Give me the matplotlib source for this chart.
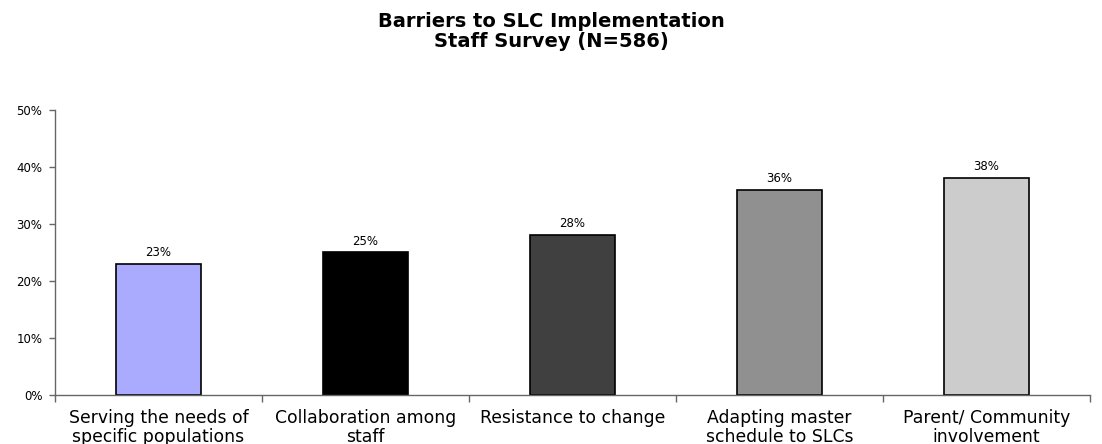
import matplotlib
matplotlib.use("Agg")
import matplotlib.pyplot as plt
import numpy as np

plt.rcParams["font.family"] = "DejaVu Sans"

categories = ["Serving the needs of\nspecific populations", "Collaboration among\nstaff",
              "Resistance to change", "Adapting master\nschedule to SLCs",
              "Parent/ Community\ninvolvement"]
values = [23, 25, 28, 36, 38]
colors = ["#AAAAFF", "#000000", "#404040", "#909090", "#CCCCCC"]
yticks = [0, 10, 20, 30, 40, 50]
title_lines = ["Barriers to SLC Implementation", "Staff Survey (N=586)"]

fig = plt.figure(figsize=(11.02, 4.44), dpi=100)
ax = fig.add_axes([55 / 1102, 49 / 444, 1035 / 1102, 285 / 444])

x = np.arange(len(categories))
bars = ax.bar(x, values, width=0.41, color=colors, edgecolor="black", linewidth=1.2)
for b, v in zip(bars, values):
    ax.text(b.get_x() + b.get_width() / 2, v + 1.4, f"{v}%", ha="center", va="baseline",
            fontsize=8.5)

ax.set_xlim(-0.5, len(categories) - 0.5)
ax.set_ylim(0, 50)
ax.set_yticks(yticks)
ax.set_yticklabels([f"{t}%" for t in yticks], fontsize=8.5)
ax.set_xticks(x)
ax.set_xticklabels(categories, fontsize=12.4, linespacing=1.07)
ax.tick_params(axis="x", length=0, pad=10)
ax.tick_params(axis="y", length=4, width=1, color="#666666", pad=5)
ax.set_xticks(np.arange(len(categories) + 1) - 0.5, minor=True)
ax.tick_params(axis="x", which="minor", length=5, width=1, color="#666666")

for s in ["top", "right"]:
    ax.spines[s].set_visible(False)
for s in ["left", "bottom"]:
    ax.spines[s].set_color("#666666")
    ax.spines[s].set_linewidth(1.0)

fig.text(0.5, 1 - 27 / 444, title_lines[0], ha="center", va="baseline",
         fontsize=14, fontweight="bold")
fig.text(0.5, 1 - 47 / 444, title_lines[1], ha="center", va="baseline",
         fontsize=14, fontweight="bold")

fig.savefig("out.png", dpi=100)
